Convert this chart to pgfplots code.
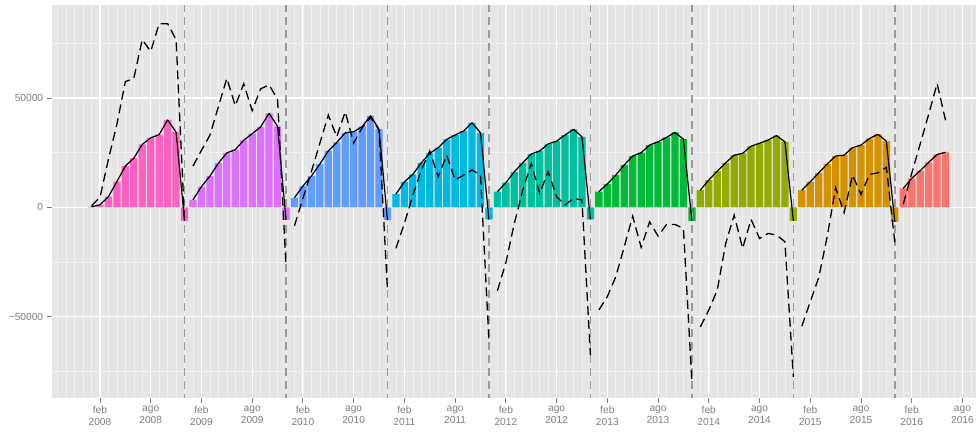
\documentclass[border=0pt]{standalone}
\usepackage{fontspec}
\setmainfont{Liberation Sans}
\usepackage{pgfplots}
\usepackage{pgfplotstable}
\pgfplotsset{compat=1.18}

\definecolor{panel}{HTML}{E5E5E5}
\definecolor{gridminor}{HTML}{F2F2F2}
\definecolor{ticktext}{HTML}{7F7F7F}
\definecolor{vline}{HTML}{999999}
\definecolor{cA}{HTML}{FF61C3}
\definecolor{cB}{HTML}{DB72FB}
\definecolor{cC}{HTML}{619CFF}
\definecolor{cD}{HTML}{00B9E3}
\definecolor{cE}{HTML}{00C19F}
\definecolor{cF}{HTML}{00BA38}
\definecolor{cG}{HTML}{93AA00}
\definecolor{cH}{HTML}{D39200}
\definecolor{cI}{HTML}{F8766D}

% m = months since jan 2008, bar = cumulative value, dash = second series
\pgfplotstableread{
m bar dash
0 300 800
1 1200 4600
2 4900 22000
3 11800 38000
4 18900 57500
5 22500 59000
6 28800 76700
7 31800 71300
8 33300 84000
9 40000 84000
10 34400 76700
11 -6100 -6000
}\tA
\pgfplotstableread{
m bar dash
12 3500 18900
13 9500 26100
14 14300 33000
15 20200 46000
16 24900 59000
17 26400 46500
18 30700 56500
19 33700 44200
20 36800 54200
21 43000 56000
22 37100 49400
23 -5700 -27000
}\tB
\pgfplotstableread{
m bar dash
24 4400 -8400
25 9750 4100
26 14300 16400
27 19800 29300
28 25800 42200
29 29700 32300
30 34100 43700
31 34600 29400
32 36900 36400
33 41900 41100
34 35800 35400
35 -5800 -38000
}\tC
\pgfplotstableread{
m bar dash
36 6100 -18700
37 11700 -7300
38 15100 5600
39 20400 17100
40 24700 25800
41 27300 14000
42 31100 23900
43 33100 12500
44 34900 14800
45 38700 17100
46 34100 14800
47 -5500 -61000
}\tD
\pgfplotstableread{
m bar dash
48 7200 -38100
49 11300 -25300
50 16300 -7300
51 20400 7900
52 24400 20100
53 25800 6400
54 29000 16300
55 30300 4900
56 33100 1100
57 35700 4100
58 32300 3400
59 -5500 -67500
}\tE
\pgfplotstableread{
m bar dash
60 7200 -46900
61 10700 -40800
62 14800 -31700
63 19400 -18000
64 23500 -4000
65 25000 -18300
66 28500 -6600
67 30000 -13100
68 32000 -7800
69 34300 -7800
70 31200 -9600
71 -6100 -79500
}\tF
\pgfplotstableread{
m bar dash
72 7900 -54600
73 12500 -46900
74 16600 -37800
75 20400 -16500
76 23900 -3500
77 24700 -18700
78 28000 -5500
79 29300 -14200
80 30800 -11900
81 32800 -12600
82 30000 -15700
83 -6100 -77500
}\tG
\pgfplotstableread{
m bar dash
84 7900 -54300
85 11700 -43100
86 15800 -32000
87 19800 -13400
88 23500 9000
89 23900 -2400
90 27300 14800
91 28500 5900
92 31500 15100
93 33400 15800
94 30300 18300
95 -6600 -16000
}\tH
\pgfplotstableread{
m bar dash
96 8700 1500
97 13300 15600
98 16800 29000
99 20600 42500
100 24200 56600
101 25200 39800
}\tI

\newcommand{\bars}[2]{\addplot[ybar, bar width=0.86, bar shift=0pt, fill=#2, draw=none] table[x=m, y=bar] {#1};}
\newcommand{\lines}[1]{%
  \addplot[black, line width=1.2pt, line join=round] table[x=m, y=bar] {#1};
  \addplot[black, line width=1.3pt, dash pattern=on 9pt off 5pt] table[x=m, y=dash] {#1};}

\begin{document}
\begin{tikzpicture}
\begin{axis}[
    width=924.3pt, height=392pt, scale only axis,
    xmin=-4.71, xmax=104.6,
    ymin=-86900, ymax=92300,
    axis background/.style={fill=panel},
    axis line style={draw=none},
    tick align=outside, tick pos=left,
    major tick length=5pt, minor tick length=0pt,
    tick style={draw=ticktext, line width=0.9pt},
    xtick={1,7,...,103},
    xticklabels={feb\\2008, ago\\2008, feb\\2009, ago\\2009, feb\\2010, ago\\2010,
        feb\\2011, ago\\2011, feb\\2012, ago\\2012, feb\\2013, ago\\2013,
        feb\\2014, ago\\2014, feb\\2015, ago\\2015, feb\\2016, ago\\2016},
    ytick={-50000,0,50000},
    yticklabels={−50000, 0, 50000},
    minor xtick={-4,...,104},
    minor ytick={-75000,-25000,25000,75000},
    grid=both,
    major grid style={white, line width=1.1pt},
    minor grid style={gridminor, line width=0.6pt},
    tick label style={font=\fontsize{10.2}{11.7}\selectfont, text=ticktext},
    xticklabel style={align=center},
]
%% bars first, one colour per year
\bars{\tA}{cA}
\bars{\tB}{cB}
\bars{\tC}{cC}
\bars{\tD}{cD}
\bars{\tE}{cE}
\bars{\tF}{cF}
\bars{\tG}{cG}
\bars{\tH}{cH}
\bars{\tI}{cI}
%% year dividers
\pgfplotsinvokeforeach{11,23,35,47,59,71,83,95}{
  \addplot[vline, line width=1.4pt, dash pattern=on 8pt off 5pt] coordinates {(#1,-95000) (#1,95000)};
}
%% lines
\lines{\tA}
\lines{\tB}
\lines{\tC}
\lines{\tD}
\lines{\tE}
\lines{\tF}
\lines{\tG}
\lines{\tH}
\lines{\tI}
\end{axis}
\pgfresetboundingbox
\path[use as bounding box] ([shift={(-51.7pt,-34.5pt)}]current axis.south west) rectangle ([shift={(1pt,5.5pt)}]current axis.north east);
\end{tikzpicture}
\end{document}
